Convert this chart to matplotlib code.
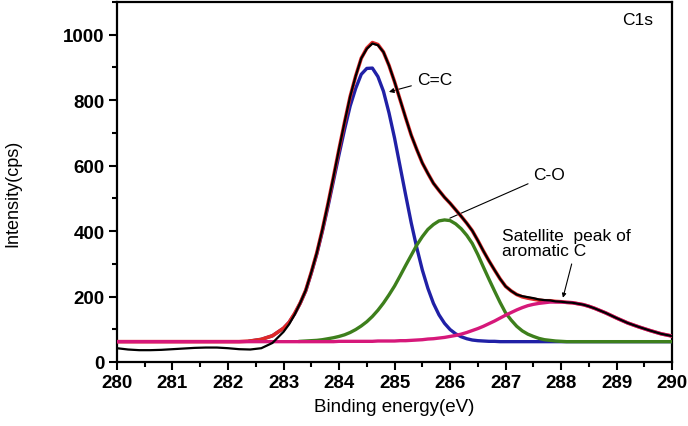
import numpy as np
import matplotlib
matplotlib.use("Agg")
import matplotlib.pyplot as plt
from matplotlib.ticker import MultipleLocator

plt.rcParams['font.family'] = ['Liberation Sans', 'DejaVu Sans']

# binding energy samples (eV): coarse on the flat ends, fine under the peaks
energy = np.round(np.concatenate([np.arange(280.0, 282.9, 0.2),
                                  np.arange(283.0, 289.05, 0.1),
                                  np.arange(289.2, 290.05, 0.2)]), 1)

# measured spectrum (cps)
measured = [42, 38, 36, 36, 37, 39, 41, 43, 44, 44, 42, 39, 38, 42, 58,
            92, 115, 145, 180, 219, 274, 334, 405, 483, 566,
            651, 733, 811, 874, 928, 957, 973, 968, 947, 906,
            856, 801, 746, 693, 649, 608, 576, 546, 524, 503,
            485, 465, 445, 424, 401, 371, 339, 309, 281, 254,
            231, 217, 206, 201, 198, 195, 191, 189, 188, 185,
            184, 182, 181, 178, 175, 170, 164, 157, 150, 142,
            134, 119, 107, 96, 86, 79]

# fitted envelope (cps)
envelope = [62, 62, 62, 62, 62, 62, 62, 62, 62, 62, 62, 62, 64, 69, 80,
            103, 121, 148, 180, 219, 274, 334, 405, 483, 566,
            651, 733, 811, 874, 928, 959, 976, 970, 947, 906,
            856, 801, 746, 693, 649, 608, 576, 546, 524, 503,
            485, 465, 445, 424, 401, 371, 339, 309, 281, 254,
            231, 217, 206, 199, 195, 192, 189, 187, 187, 185,
            184, 182, 181, 178, 175, 170, 164, 157, 150, 142,
            134, 119, 107, 96, 86, 79]

# fitted components (cps, including the 62 cps background)
cc_peak = [62, 62, 62, 62, 62, 62, 62, 62, 62, 62, 62, 62, 64, 69, 80,
           103, 121, 147, 179, 217, 271, 330, 399, 474, 554,
           634, 711, 782, 836, 879, 897, 898, 872, 827, 761,
           684, 597, 510, 425, 349, 281, 225, 179, 144, 118,
           99, 86, 77, 71, 67, 65, 64, 63, 63, 62,
           62, 62, 62, 62, 62, 62, 62, 62, 62, 62,
           62, 62, 62, 62, 62, 62, 62, 62, 62, 62,
           62, 62, 62, 62, 62, 62]
co_peak = [62, 62, 62, 62, 62, 62, 62, 62, 62, 62, 62, 62, 62, 62, 62,
           62, 62, 63, 63, 64, 65, 66, 68, 71, 74,
           78, 83, 90, 99, 110, 123, 139, 158, 180, 205,
           232, 263, 295, 326, 357, 383, 405, 420, 431, 434,
           432, 422, 407, 387, 362, 328, 290, 253, 217, 182,
           150, 128, 109, 95, 85, 78, 72, 68, 66, 64,
           63, 62, 62, 62, 62, 62, 62, 62, 62, 62,
           62, 62, 62, 62, 62, 62]
sat_peak = [62, 62, 62, 62, 62, 62, 62, 62, 62, 62, 62, 62, 62, 62, 62,
            62, 62, 62, 62, 62, 62, 62, 62, 62, 62,
            63, 63, 63, 63, 63, 63, 63, 64, 64, 64,
            64, 65, 65, 66, 67, 68, 70, 71, 73, 75,
            78, 81, 85, 90, 96, 102, 109, 117, 125, 134,
            143, 151, 159, 166, 172, 176, 179, 181, 183, 183,
            183, 182, 181, 178, 175, 170, 164, 157, 150, 142,
            134, 119, 107, 96, 86, 79]

fig = plt.figure(figsize=(6.88, 4.27), dpi=100)
ax = fig.add_axes([0.170, 0.150, 0.807, 0.843])

cc_range = energy >= 282.3
co_range = energy >= 283.3
ax.plot(energy[cc_range], np.array(cc_peak)[cc_range], color='#2020a6', lw=2.4, zorder=3)
ax.plot(energy[co_range], np.array(co_peak)[co_range], color='#3d7f1c', lw=2.4, zorder=4)
ax.plot(energy, envelope, color='#e02828', lw=2.6, zorder=5)
ax.plot(energy, sat_peak, color='#d6187a', lw=2.4, zorder=5.5)
ax.plot(energy, measured, color='black', lw=1.6, zorder=6)

ax.set_xlim(280, 290)
ax.set_ylim(0, 1100)
ax.xaxis.set_major_locator(MultipleLocator(1))
ax.xaxis.set_minor_locator(MultipleLocator(0.5))
ax.yaxis.set_major_locator(MultipleLocator(200))
ax.yaxis.set_minor_locator(MultipleLocator(100))
ax.tick_params(which='both', direction='out', width=1.5)
ax.tick_params(which='major', length=6, labelsize=13.5, pad=3)
ax.tick_params(which='minor', length=3.5)
for lab in ax.get_xticklabels() + ax.get_yticklabels():
    lab.set_fontweight('bold')
for sp in ax.spines.values():
    sp.set_linewidth(1.6)

ax.set_xlabel('Binding energy(eV)', fontsize=13.5, labelpad=5)
ax.set_ylabel('Intensity(cps)', fontsize=13)
ax.yaxis.set_label_coords(-0.172, 0.47)

# annotations
ax.annotate('C=C', xy=(284.85, 823), xytext=(285.4, 863), fontsize=12.5,
            va='center', ha='left',
            arrowprops=dict(arrowstyle='-|>', color='black', lw=0.8, mutation_scale=7))
ax.annotate('C-O', xy=(285.95, 436), xytext=(287.5, 573), fontsize=12.5,
            va='center', ha='left',
            arrowprops=dict(arrowstyle='-', color='black', lw=0.8))
ax.annotate('Satellite  peak of\naromatic C', xy=(288.02, 188), xytext=(286.94, 362),
            fontsize=12.5, va='center', ha='left', linespacing=1.0,
            arrowprops=dict(arrowstyle='-|>', color='black', lw=0.8, mutation_scale=6,
                            relpos=(0.55, 0.0)))
ax.text(289.66, 1046, 'C1s', fontsize=12.5, ha='right', va='center')

fig.savefig('out.png', dpi=100)
